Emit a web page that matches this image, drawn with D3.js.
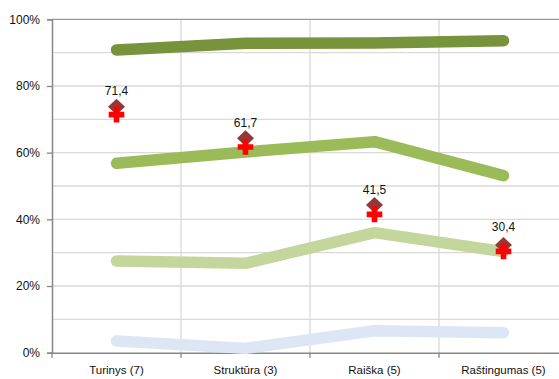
<!DOCTYPE html>
<html>
<head>
<meta charset="utf-8">
<script src="https://cdn.jsdelivr.net/npm/d3@7"></script>
<style>
  body { margin: 0; background: #fff; }
  svg { display: block; font-family: "Liberation Sans", Arial, sans-serif; }
</style>
</head>
<body>
<svg width="559" height="379"></svg>
<script>
// categories and series
var categories = ["Turinys (7)", "Struktūra (3)", "Raiška (5)", "Raštingumas (5)"];
var topGroup = [90.8, 92.8, 92.9, 93.6];
var upperGroup = [56.8, 60.2, 63.3, 53.1];
var lowerGroup = [27.5, 26.8, 36.0, 30.3];
var bottomGroup = [3.5, 1.3, 6.6, 6.0];
var diamonds = [73.8, 64.3, 44.3, 32.3];
var crosses = [71.4, 61.7, 41.5, 30.4];
var crossLabels = ["71,4", "61,7", "41,5", "30,4"];
var yTicks = [0, 20, 40, 60, 80, 100];

var lines = [
  { values: bottomGroup, color: "#dce6f4" },
  { values: lowerGroup, color: "#c3d69b" },
  { values: upperGroup, color: "#9bbb59" },
  { values: topGroup, color: "#77933c" }
];

var svg = d3.select("svg");

var x = d3.scaleBand().domain(categories).range([52, 568]);
var y = d3.scaleLinear().domain([0, 100]).range([352.7, 19.3]);
var cx = function(i) { return x(categories[i]) + x.bandwidth() / 2; };

// gridlines
svg.append("g")
  .selectAll("line")
  .data(d3.range(10, 100, 10))
  .join("line")
  .attr("x1", 52).attr("x2", 559)
  .attr("y1", d => y(d)).attr("y2", d => y(d))
  .attr("stroke", "#d9d9d9").attr("stroke-width", 1.3);

svg.append("g")
  .selectAll("line")
  .data(categories.slice(1))
  .join("line")
  .attr("x1", d => x(d)).attr("x2", d => x(d))
  .attr("y1", y(100)).attr("y2", y(0))
  .attr("stroke", "#d9d9d9").attr("stroke-width", 1.3);

// top border
svg.append("line")
  .attr("x1", 52).attr("x2", 559)
  .attr("y1", y(100)).attr("y2", y(100))
  .attr("stroke", "#9a9a9a").attr("stroke-width", 1.3);

// y axis
var yAxis = svg.append("g")
  .attr("transform", "translate(52,0)")
  .call(d3.axisLeft(y).tickValues(yTicks).tickSize(5).tickFormat(d => d + "%"));
yAxis.select(".domain").attr("stroke", "#868686").attr("stroke-width", 1.5);
yAxis.selectAll(".tick line").attr("stroke", "#868686").attr("stroke-width", 1.3);
yAxis.selectAll(".tick text")
  .attr("x", -12).attr("fill", "#111").attr("font-size", 12);

// x axis
var xAxis = svg.append("g")
  .attr("transform", "translate(0," + y(0) + ")")
  .call(d3.axisBottom(x).tickSize(0).tickSizeOuter(0));
xAxis.select(".domain").attr("stroke", "#868686").attr("stroke-width", 1.5);
xAxis.selectAll(".tick text")
  .attr("y", 13).attr("fill", "#111").attr("font-size", 11.5);

svg.append("g")
  .selectAll("line")
  .data(categories)
  .join("line")
  .attr("x1", d => x(d)).attr("x2", d => x(d))
  .attr("y1", y(0)).attr("y2", y(0) + 5)
  .attr("stroke", "#868686").attr("stroke-width", 1.3);

// thick lines
var line = d3.line().x((d, i) => cx(i)).y(d => y(d));
svg.append("g")
  .selectAll("path")
  .data(lines)
  .join("path")
  .attr("d", d => line(d.values))
  .attr("fill", "none")
  .attr("stroke", d => d.color)
  .attr("stroke-width", 11.5)
  .attr("stroke-linecap", "round")
  .attr("stroke-linejoin", "round");

// diamonds
svg.append("g")
  .selectAll("path")
  .data(diamonds)
  .join("path")
  .attr("transform", (d, i) => "translate(" + cx(i) + "," + y(d) + ")")
  .attr("d", "M0,-8L8.5,0L0,8L-8.5,0Z")
  .attr("fill", "#953735");

// crosses
svg.append("g")
  .selectAll("path")
  .data(crosses)
  .join("path")
  .attr("transform", (d, i) => "translate(" + cx(i) + "," + y(d) + ")")
  .attr("d", "M-2.8,-7.8H2.8V-2.8H7.8V2.8H2.8V7.8H-2.8V2.8H-7.8V-2.8H-2.8Z")
  .attr("fill", "#ff0000");

// labels
svg.append("g")
  .selectAll("text")
  .data(crosses)
  .join("text")
  .attr("x", (d, i) => cx(i))
  .attr("y", d => y(d) - 20)
  .attr("text-anchor", "middle")
  .attr("fill", "#111")
  .attr("font-size", 12)
  .text((d, i) => crossLabels[i]);
</script>
</body>
</html>
